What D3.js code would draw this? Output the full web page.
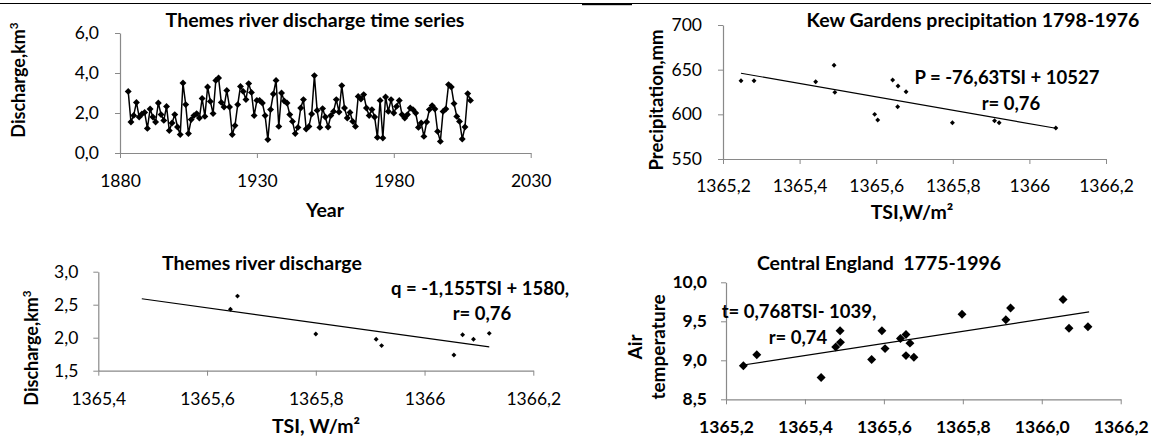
<!DOCTYPE html>
<html>
<head>
<meta charset="utf-8">
<script src="https://cdn.jsdelivr.net/npm/d3@7"></script>
<style>
  body { margin: 0; background: #fff; }
  svg { display: block; font-family: Lato, "Open Sans", sans-serif; }
  .axis path, .axis line { stroke: #898989; }
  .axis text { fill: #000; }
</style>
</head>
<body>
<svg id="chart" width="1151" height="439"></svg>
<script>
// ---- data ----
// Themes river discharge time series (km3)
var tsYears = [1883,1884,1885,1886,1887,1888,1889,1890,1891,1892,1893,1894,1895,1896,1897,1898,1899,1900,
  1901,1902,1903,1904,1905,1906,1907,1908,1909,1910,1911,1912,1913,1914,1915,1916,1917,1918,1919,1920,
  1921,1922,1923,1924,1925,1926,1927,1928,1929,1930,1931,1932,1933,1934,1935,1936,1937,1938,1939,1940,
  1941,1942,1943,1944,1945,1946,1947,1948,1949,1950,1951,1952,1953,1954,1955,1956,1957,1958,1959,1960,
  1961,1962,1963,1964,1965,1966,1967,1968,1969,1970,1971,1972,1973,1974,1975,1976,1977,1978,1979,1980,
  1981,1982,1983,1984,1985,1986,1987,1988,1989,1990,1991,1992,1993,1994,1995,1996,1997,1998,1999,2000,
  2001,2002,2003,2004,2005,2006,2007,2008];
var tsDischarge = [3.08,1.55,1.88,2.53,1.80,1.95,2.03,1.23,2.20,1.80,1.55,2.50,1.92,1.63,2.33,1.12,1.50,1.92,
  1.30,0.92,3.50,2.42,0.97,1.67,1.87,1.97,1.75,2.73,1.83,3.30,2.58,1.97,3.63,3.75,2.53,2.30,3.13,2.30,
  0.92,1.37,2.42,3.33,3.08,2.67,3.47,3.03,1.87,2.63,2.63,2.50,1.87,0.67,2.17,2.95,3.63,1.33,3.00,2.60,
  2.50,1.92,1.58,0.97,1.28,2.25,2.67,1.20,1.33,1.95,3.87,2.13,1.28,2.22,1.80,1.30,1.87,2.08,2.67,2.05,
  3.37,2.25,1.75,2.03,1.58,1.33,2.83,2.70,2.92,2.25,1.87,2.17,1.80,0.78,2.63,0.75,2.80,2.08,2.67,2.00,
  2.33,2.63,1.92,1.75,1.92,2.25,2.17,2.00,1.28,1.50,0.83,1.55,2.17,2.37,2.20,1.08,0.58,2.08,2.20,3.42,
  3.30,2.47,1.83,1.58,0.70,1.30,2.97,2.63];

// Kew Gardens precipitation vs TSI
var kewTsi = [1365.247,1365.281,1365.442,1365.490,1365.492,1365.596,1365.604,1365.643,1365.657,1365.678,1365.656,1365.799,1365.909,1365.921,1366.069];
var kewPrec = [637.6,637.6,636.5,655.0,624.6,600.0,593.7,638.4,631.7,625.3,608.5,590.6,592.9,590.6,584.7];
var kewTrendTsi = [1365.247, 1366.069];
var kewTrendPrec = [646.0, 584.4];

// Themes river discharge vs TSI
var qTsi = [1365.643,1365.656,1365.800,1365.911,1365.921,1366.054,1366.070,1366.090,1366.119];
var qVal = [2.43,2.63,2.056,1.976,1.88,1.738,2.045,1.976,2.066];
var qTrendTsi = [1365.48, 1366.119];
var qTrendVal = [2.59, 1.86];

// Central England air temperature vs TSI
var ceTsi = [1365.244,1365.278,1365.441,1365.478,1365.489,1365.490,1365.569,1365.595,1365.603,1365.642,1365.656,1365.666,1365.656,1365.676,1365.798,1365.909,1365.921,1366.054,1366.069,1366.117];
var ceTemp = [8.93,9.07,8.78,9.17,9.38,9.23,9.01,9.38,9.15,9.28,9.33,9.22,9.06,9.04,9.59,9.52,9.67,9.78,9.41,9.43];
var ceTrendTsi = [1365.244, 1366.12];
var ceTrendTemp = [8.94, 9.62];

// tick values
var tsXTicks = [1880, 1930, 1980, 2030];
var tsYTicks = [0, 2, 4, 6];
var kewXTicks = [1365.2, 1365.4, 1365.6, 1365.8, 1366, 1366.2];
var kewYTicks = [550, 600, 650, 700];
var qXTicks = [1365.4, 1365.6, 1365.8, 1366, 1366.2];
var qYTicks = [1.5, 2.0, 2.5, 3.0];
var ceXTicks = [1365.2, 1365.4, 1365.6, 1365.8, 1366.0, 1366.2];
var ceYTicks = [8.5, 9.0, 9.5, 10.0];

// ---- drawing ----
var svg = d3.select('#chart');
svg.append('rect').attr('width', 1151).attr('height', 439).attr('fill', '#fff');

// border line on top of the page
svg.append('line').attr('x1', 0).attr('x2', 1151).attr('y1', 3.5).attr('y2', 3.5)
  .attr('stroke', '#000').attr('stroke-width', 1.2);
svg.append('rect').attr('x', 582).attr('y', 3).attr('width', 50).attr('height', 2.2).attr('fill', '#000');

var comma = function (f) { return function (d) { return f(d).replace('.', ','); }; };
var generalFmt = function (d) { return String(+d.toFixed(1)).replace('.', ','); };

function panel(opt) {
  var x = d3.scaleLinear().domain(opt.xDomain).range(opt.xRange);
  var y = d3.scaleLinear().domain(opt.yDomain).range(opt.yRange);
  var g = svg.append('g');

  var xa = g.append('g').attr('class', 'axis')
    .attr('transform', 'translate(0,' + opt.yRange[0] + ')')
    .call(d3.axisBottom(x).tickValues(opt.xTicks).tickFormat(opt.xFmt)
      .tickSizeInner(5).tickSizeOuter(0).tickPadding(opt.xPad));
  var ya = g.append('g').attr('class', 'axis')
    .attr('transform', 'translate(' + opt.xRange[0] + ',0)')
    .call(d3.axisLeft(y).tickValues(opt.yTicks).tickFormat(opt.yFmt)
      .tickSizeInner(5).tickSizeOuter(0).tickPadding(opt.yPad));
  [xa, ya].forEach(function (a) {
    a.selectAll('text').style('font-size', opt.tickSize + 'px')
      .style('font-weight', opt.tickBold ? 'bold' : 'normal')
      .style('font-family', 'Lato, sans-serif');
    a.select('.domain').attr('stroke-width', 1.2);
  });
  return { g: g, x: x, y: y };
}

function marks(p, xs, ys, size) {
  var sym = d3.symbol().type(d3.symbolSquare).size(size);
  p.g.selectAll(null).data(xs).enter().append('path')
    .attr('d', sym)
    .attr('transform', function (d, i) {
      return 'translate(' + p.x(d) + ',' + p.y(ys[i]) + ') rotate(45)';
    })
    .attr('fill', '#000');
}

function trend(p, xs, ys) {
  p.g.append('path')
    .datum(xs.map(function (d, i) { return [d, ys[i]]; }))
    .attr('d', d3.line().x(function (d) { return p.x(d[0]); }).y(function (d) { return p.y(d[1]); }))
    .attr('fill', 'none').attr('stroke', '#000').attr('stroke-width', 1.2);
}

function label(text, x, y, size, opts) {
  opts = opts || {};
  var t = svg.append('text').attr('x', x).attr('y', y)
    .attr('text-anchor', 'middle')
    .style('font-size', size + 'px').style('font-weight', 'bold')
    .attr('fill', '#000');
  if (opts.rotate) t.attr('transform', 'rotate(-90,' + x + ',' + y + ')');
  if (opts.parts) {
    opts.parts.forEach(function (pt) {
      var s = t.append('tspan').text(pt[0]);
      if (pt[1]) s.attr('baseline-shift', 'super').style('font-size', (size * 0.65) + 'px');
    });
  } else {
    t.text(text);
  }
  return t;
}

// Panel 1: time series
var p1 = panel({
  xDomain: [1880, 2030], xRange: [120, 530.7],
  yDomain: [0, 6], yRange: [153, 33],
  xTicks: tsXTicks, yTicks: tsYTicks,
  xFmt: d3.format('d'), yFmt: comma(d3.format('.1f')),
  xPad: 17, yPad: 16, tickSize: 17.5
});
p1.g.append('path')
  .datum(tsYears.map(function (d, i) { return [d, tsDischarge[i]]; }))
  .attr('d', d3.line().x(function (d) { return p1.x(d[0]); }).y(function (d) { return p1.y(d[1]); }))
  .attr('fill', 'none').attr('stroke', '#000').attr('stroke-width', 1.5);
marks(p1, tsYears, tsDischarge, 24);
label('Themes river discharge time series', 315, 27, 19.5);
label('Year', 325, 217, 19.5);
label(null, 25, 80, 18, { rotate: true, parts: [['Discharge,km'], ['3', true]] });

// Panel 2: Kew Gardens
var p2 = panel({
  xDomain: [1365.2, 1366.2], xRange: [723, 1106],
  yDomain: [550, 700], yRange: [159, 25],
  xTicks: kewXTicks, yTicks: kewYTicks,
  xFmt: generalFmt, yFmt: d3.format('d'),
  xPad: 16, yPad: 16, tickSize: 17.5
});
trend(p2, kewTrendTsi, kewTrendPrec);
marks(p2, kewTsi, kewPrec, 12);
label('Kew Gardens precipitation 1798-1976', 973, 27, 19.5);
label('TSI,W/m²', 912, 219, 19.5);
label('Precipitation,mm', 663, 100, 18.5, { rotate: true });
label('P = -76,63TSI + 10527', 1007, 84, 18.5);
label('r= 0,76', 1011, 110, 18.5);

// Panel 3: discharge vs TSI
var p3 = panel({
  xDomain: [1365.4, 1366.2], xRange: [98.3, 533.3],
  yDomain: [1.5, 3.0], yRange: [370.7, 271.7],
  xTicks: qXTicks, yTicks: qYTicks,
  xFmt: generalFmt, yFmt: comma(d3.format('.1f')),
  xPad: 17, yPad: 15, tickSize: 17.5
});
trend(p3, qTrendTsi, qTrendVal);
marks(p3, qTsi, qVal, 12);
label('Themes river discharge', 262, 270, 19.5);
label('TSI, W/m²', 316, 433, 19.5);
label(null, 38, 348, 18, { rotate: true, parts: [['Discharge,km'], ['3', true]] });
label('q = -1,155TSI + 1580,', 480, 295, 18.5);
label('r= 0,76', 482, 320, 18.5);

// Panel 4: Central England temperature
var p4 = panel({
  xDomain: [1365.2, 1366.2], xRange: [726, 1120.7],
  yDomain: [8.5, 10.0], yRange: [399.3, 282.3],
  xTicks: ceXTicks, yTicks: ceYTicks,
  xFmt: comma(d3.format('.1f')), yFmt: comma(d3.format('.1f')),
  xPad: 16, yPad: 14, tickSize: 17.5, tickBold: true
});
trend(p4, ceTrendTsi, ceTrendTemp);
marks(p4, ceTsi, ceTemp, 40);
label('Central England  1775-1996', 879, 270, 19.5).style('white-space', 'pre');
label('Air', 642, 347, 19, { rotate: true });
label('temperature', 665, 347, 19, { rotate: true });
label('t= 0,768TSI- 1039,', 799, 318, 18.5);
label('r= 0,74', 798, 344, 18.5);
</script>
</body>
</html>
